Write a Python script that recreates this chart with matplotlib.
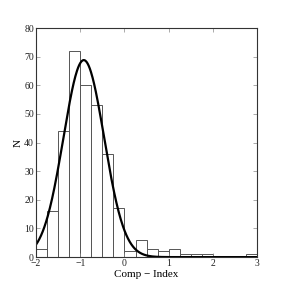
import matplotlib as mpl
mpl.use("Agg")
import matplotlib.pyplot as plt
import numpy as np

# histogram of Comp - Index, bin width 0.25 from -2 to 3
bin_edges = np.arange(-2.0, 3.0001, 0.25)
counts = [3, 16, 44, 72, 60, 53, 36, 17, 2, 6, 3, 2, 3, 1, 1, 1, 0, 0, 0, 1]

# gaussian fit
g_amp = 68.8
g_mu = -0.92
g_sigma = 0.46

x_ticks = [-2, -1, 0, 1, 2, 3]
y_ticks = [0, 10, 20, 30, 40, 50, 60, 70, 80]

mpl.rcParams.update({
    "font.family": "serif",
    "font.serif": ["Liberation Serif", "DejaVu Serif"],
    "font.size": 7,
    "axes.linewidth": 0.8,
    "axes.edgecolor": "#333333",
    "xtick.direction": "in",
    "ytick.direction": "in",
    "xtick.top": True,
    "ytick.right": True,
    "xtick.major.size": 3,
    "ytick.major.size": 3,
    "xtick.major.width": 0.5,
    "ytick.major.width": 0.5,
    "xtick.color": "#888888",
    "ytick.color": "#888888",
    "xtick.labelcolor": "#222222",
    "ytick.labelcolor": "#222222",
    "xtick.major.pad": 1.5,
    "ytick.major.pad": 1.5,
})

fig = plt.figure(figsize=(2.86, 2.86), dpi=100)
ax = fig.add_axes([0.126, 0.101, 0.773, 0.801])

lefts = bin_edges[:-1]
widths = np.diff(bin_edges)
ax.bar(lefts, counts, width=widths, align="edge", facecolor="white",
       edgecolor="#555555", linewidth=0.7)

xs = np.linspace(-2, 3, 400)
ax.plot(xs, g_amp * np.exp(-(xs - g_mu) ** 2 / (2 * g_sigma ** 2)),
        color="black", linewidth=1.6)

ax.set_xlim(-2, 3)
ax.set_ylim(0, 80)
ax.set_xticks(x_ticks)
ax.set_xticklabels(["\u22122", "\u22121", "0", "1", "2", "3"])
ax.set_yticks(y_ticks)
ax.set_xlabel("Comp \u2212 Index", fontsize=8, labelpad=1)
ax.set_ylabel("N", fontsize=8, labelpad=1)

fig.savefig("out.png", dpi=100)
